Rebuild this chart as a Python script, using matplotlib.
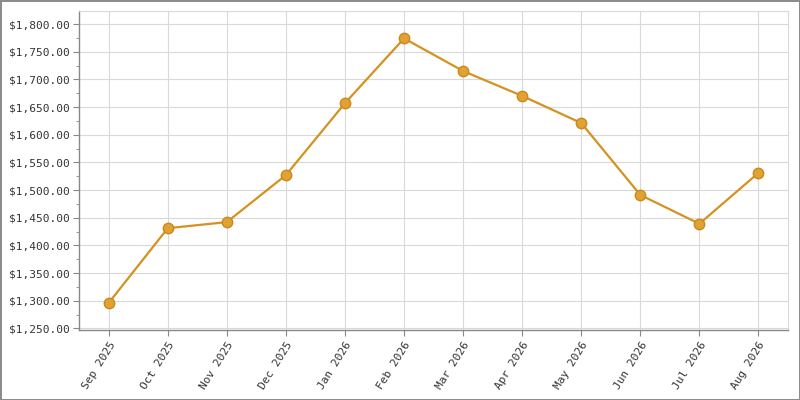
import matplotlib
import numpy as np

matplotlib.use("Agg")
import matplotlib.pyplot as plt
from matplotlib.ticker import FuncFormatter, MultipleLocator

months = ["Sep 2025", "Oct 2025", "Nov 2025", "Dec 2025", "Jan 2026", "Feb 2026",
          "Mar 2026", "Apr 2026", "May 2026", "Jun 2026", "Jul 2026", "Aug 2026"]
prices = [1296, 1431, 1442, 1527, 1657, 1774, 1715, 1670, 1621, 1491, 1439, 1531]

plt.rcParams["font.family"] = ["DejaVu Sans Mono"]
plt.rcParams["font.size"] = 8

fig = plt.figure(figsize=(8, 4), dpi=100, facecolor="white",
                 edgecolor="#8c8c8c", linewidth=2)
ax = fig.add_axes([0.099, 0.175, 0.886, 0.7975])

x = np.arange(len(months))
ax.plot(x, prices, color="#d4921f", linewidth=1.6, zorder=3)
ax.plot(x, prices, "o", markersize=7.5, markerfacecolor="#e0a232",
        markeredgecolor="#c98a1c", markeredgewidth=1, zorder=4)

ax.set_xlim(-0.5, 11.5)
ax.set_ylim(1247, 1823.5)
ax.set_xticks(x)
ax.set_xticklabels(months, rotation=58, ha="right", rotation_mode="anchor")
ax.yaxis.set_major_locator(MultipleLocator(50))
ax.yaxis.set_minor_locator(MultipleLocator(25))
ax.yaxis.set_major_formatter(FuncFormatter(lambda v, p: f"${v:,.2f}"))

ax.grid(True, which="major", color="#d9d9d9", linewidth=0.8)
ax.set_axisbelow(True)
for s in ["top", "right"]:
    ax.spines[s].set_color("#d9d9d9")
    ax.spines[s].set_linewidth(0.8)
for s in ["left", "bottom"]:
    ax.spines[s].set_color("#888888")
    ax.spines[s].set_linewidth(1)
ax.tick_params(axis="both", which="major", length=4, color="#888888",
               labelcolor="#333333", pad=3)
ax.tick_params(axis="y", which="minor", length=2, color="#888888")

fig.savefig("out.png", dpi=100, facecolor=fig.get_facecolor(),
            edgecolor=fig.get_edgecolor())
